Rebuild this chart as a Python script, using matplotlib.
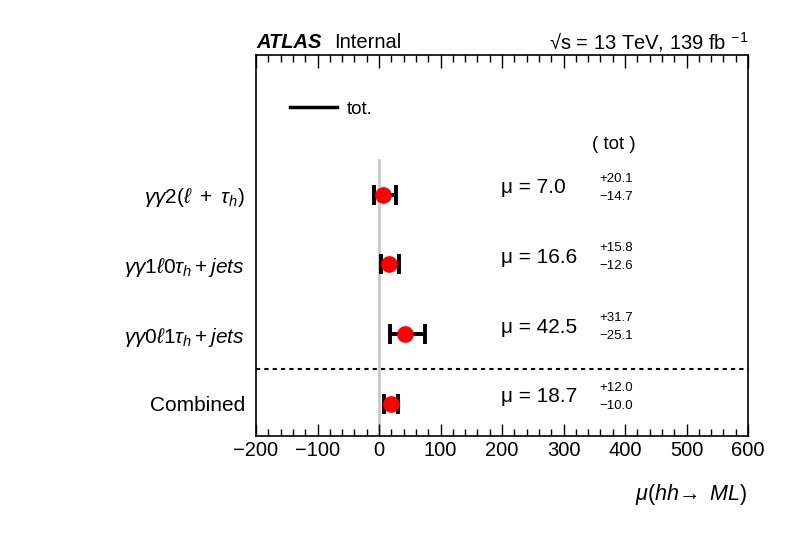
import matplotlib
matplotlib.use("Agg")
import matplotlib.pyplot as plt
from matplotlib.lines import Line2D
from matplotlib.ticker import MultipleLocator

plt.rcParams['font.family'] = ['Liberation Sans', 'DejaVu Sans']
plt.rcParams['mathtext.fontset'] = 'custom'
plt.rcParams['mathtext.rm'] = 'Liberation Sans'
plt.rcParams['mathtext.it'] = 'Liberation Sans:italic'
plt.rcParams['mathtext.bf'] = 'Liberation Sans:bold'

# data
labels = [r'$\gamma\gamma2(\ell\ +\ \tau_h)$',
          r'$\gamma\gamma1\ell0\tau_h + jets$',
          r'$\gamma\gamma0\ell1\tau_h + jets$',
          'Combined']
mu = [7.0, 16.6, 42.5, 18.7]
err_up = [20.1, 15.8, 31.7, 12.0]
err_dn = [14.7, 12.6, 25.1, 10.0]
ypos = [4, 3, 2, 1]

fig = plt.figure(figsize=(7.94, 5.34), dpi=100)
ax = fig.add_axes([256/794, 1-436/534, 492/794, 381/534])

ax.set_xlim(-200, 600)
ax.set_ylim(0.54, 6.0)

# vertical reference at 0
ax.plot([0, 0], [0.54, 4.5], color='#c8c8c8', lw=2, zorder=1)
# separator for combined
ax.axhline(1.5, color='black', ls=(0, (2, 2)), lw=1.5)

ax.errorbar(mu, ypos, xerr=[err_dn, err_up], fmt='none', ecolor='black',
            elinewidth=2.8, capsize=7, capthick=2.8, zorder=2)
ax.plot(mu, ypos, 'o', color='red', ms=11, zorder=3)

ax.set_yticks(ypos)
ax.set_yticklabels(labels, fontsize=15)
ax.tick_params(axis='y', length=0, pad=8)

ax.xaxis.set_major_locator(MultipleLocator(100))
ax.xaxis.set_minor_locator(MultipleLocator(20))
ax.tick_params(axis='x', which='both', direction='in', top=True, bottom=True,
               labelsize=14.5, width=1)
ax.tick_params(axis='x', which='major', length=9)
ax.tick_params(axis='x', which='minor', length=5)
for s in ax.spines.values():
    s.set_linewidth(1.2)

ax.set_xlabel(r'$\mu(hh\!\rightarrow\ ML)$', fontsize=15.5, loc='right', labelpad=16)

# result text
for m, u, d, y in zip(mu, err_up, err_dn, ypos):
    ax.text(199, y + 0.1, '\u03bc = %.1f' % m, fontsize=15, ha='left', va='center')
    ax.text(359, y + 0.23, '+%.1f' % u, fontsize=9.5, va='center')
    ax.text(359, y - 0.03, '\u2212%.1f' % d, fontsize=9.5, va='center')
ax.text(382, 4.72, '( tot )', fontsize=13.5, ha='center', va='center')

leg = ax.legend([Line2D([], [], color='black', lw=2.5)], ['tot.'],
                loc='upper left', bbox_to_anchor=(0.035, 0.925), frameon=False,
                fontsize=13.5, handlelength=2.5, handletextpad=0.5)

fig.text(256/794, 1-42/534, 'ATLAS', fontsize=14.5, va='center',
         fontweight='bold', fontstyle='italic')
fig.text(334/794, 1-42/534, 'Internal', fontsize=14.5, va='center')
fig.text(748/794, 1-42/534, '\u221as = 13 TeV, 139 fb $^{-1}$', fontsize=14.5,
         va='center', ha='right')

fig.savefig('out.png', dpi=100)
